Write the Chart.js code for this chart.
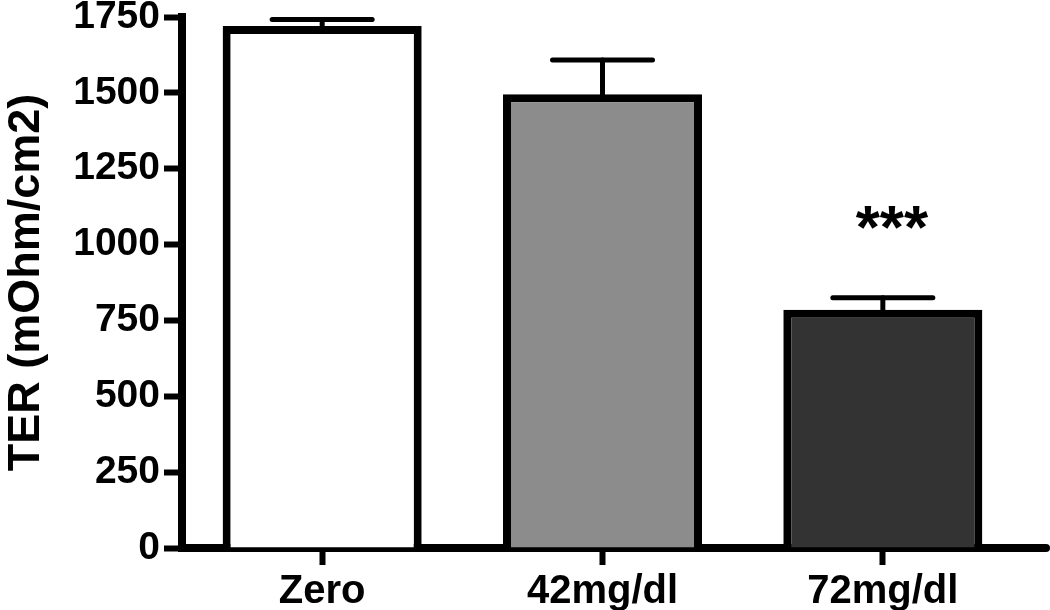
<!DOCTYPE html>
<html>
<head>
<meta charset="utf-8">
<script src="https://cdn.jsdelivr.net/npm/chart.js@4.4.1/dist/chart.umd.min.js"></script>
<style>
  html, body { margin: 0; padding: 0; background: #fff; }
  #wrap { width: 1050px; height: 610px; }
</style>
</head>
<body>
<div id="wrap"><canvas id="terChart"></canvas></div>
<script>
// TER bar chart with SEM error bars (upper only) and significance stars

const categories = ["Zero", "42mg/dl", "72mg/dl"];
const means = [1720, 1495, 785];
const sem = [22, 113, 40];
const significance = ["", "", "***"];
const barColors = ["#ffffff", "#8c8c8c", "#333333"];
const yMax = 1750;
const yStep = 250;

const FONT = "'Liberation Sans', Arial, Helvetica, sans-serif";

// draws the upper error bar for each bar, plus the stars
const errorBarPlugin = {
  id: "errorBars",
  afterDatasetsDraw(chart) {
    const ctx = chart.ctx;
    const xs = chart.scales.x;
    const ys = chart.scales.y;
    const meta = chart.getDatasetMeta(0);
    ctx.save();
    ctx.strokeStyle = "#000";
    ctx.lineCap = "round";
    means.forEach((m, i) => {
      const x = meta.data[i].x;
      const yTop = ys.getPixelForValue(m + sem[i]);
      const yBar = ys.getPixelForValue(m);
      ctx.lineWidth = 5;
      ctx.beginPath();
      ctx.moveTo(x, yBar);
      ctx.lineTo(x, yTop);
      ctx.stroke();
      ctx.beginPath();
      ctx.moveTo(x - 50, yTop);
      ctx.lineTo(x + 50, yTop);
      ctx.stroke();
      if (significance[i]) {
        ctx.fillStyle = "#000";
        ctx.font = "bold 62px " + FONT;
        ctx.textAlign = "center";
        ctx.textBaseline = "alphabetic";
        ctx.fillText(significance[i], xs.getPixelForValue(i) + 9, yTop - 50);
      }
    });
    // x axis line runs a bit past the last category
    const yb = chart.chartArea.bottom;
    ctx.lineWidth = 8;
    ctx.beginPath();
    ctx.moveTo(chart.chartArea.right - 2, yb);
    ctx.lineTo(chart.width - 4, yb);
    ctx.stroke();
    ctx.restore();
  },
};

const ctx = document.getElementById("terChart").getContext("2d");

new Chart(ctx, {
  type: "bar",
  data: {
    labels: categories,
    datasets: [
      {
        data: means,
        backgroundColor: barColors,
        borderColor: "#000",
        borderWidth: 8,
        borderSkipped: "start",
        categoryPercentage: 1.0,
        barPercentage: 0.71,
      },
    ],
  },
  options: {
    responsive: true,
    maintainAspectRatio: false,
    animation: false,
    layout: { padding: { top: 17, right: 27, left: 0, bottom: 0 } },
    plugins: {
      legend: { display: false },
      tooltip: { enabled: false },
    },
    scales: {
      x: {
        grid: {
          offset: false,
          drawOnChartArea: false,
          drawTicks: true,
          tickLength: 17,
          tickWidth: 6,
          tickColor: "#000",
        },
        border: { display: true, color: "#000", width: 8 },
        ticks: {
          color: "#000",
          padding: 3,
          font: { family: FONT, size: 40, weight: "bold" },
        },
        afterFit(s) {
          s.height = 62;
          s.paddingLeft = 0;
          s.paddingRight = 0;
        },
      },
      y: {
        min: 0,
        max: yMax,
        grid: {
          drawOnChartArea: false,
          drawTicks: true,
          tickLength: 18,
          tickWidth: 6,
          tickColor: "#000",
        },
        border: { display: true, color: "#000", width: 8 },
        ticks: {
          stepSize: yStep,
          color: "#000",
          padding: 4,
          font: { family: FONT, size: 39, weight: "bold" },
          callback: (v) => String(v),
        },
        title: {
          display: true,
          text: "TER (mOhm/cm2)",
          color: "#000",
          padding: { top: 0, bottom: 4 },
          font: { family: FONT, size: 45, weight: "bold" },
        },
        afterFit(s) {
          s.width = 182;
          s.paddingTop = 0;
          s.paddingBottom = 0;
        },
      },
    },
  },
  plugins: [errorBarPlugin],
});
</script>
</body>
</html>
